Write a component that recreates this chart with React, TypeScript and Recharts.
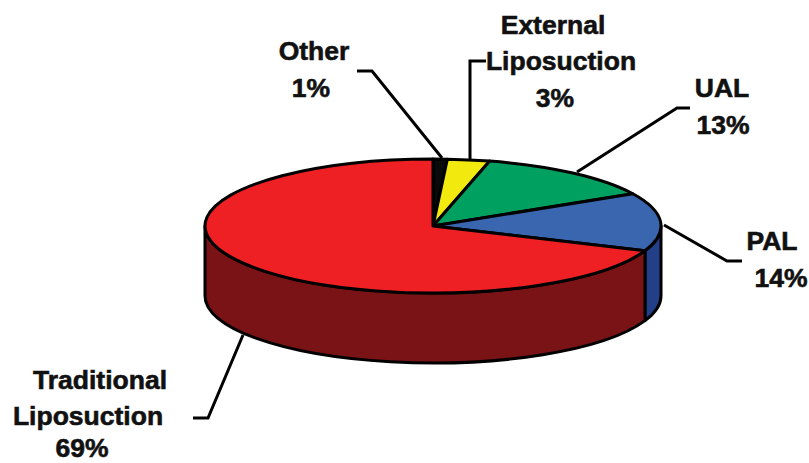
import { Pie, PieChart } from "recharts";

const categories = ["Other", "External Liposuction", "UAL", "PAL", "Traditional Liposuction"];
const shares = [1, 3, 13, 14, 69];

const topColors = ["#0a0a0a", "#f2e90f", "#00a160", "#3a66b0", "#ee2024"];
const wallColors = ["#0a0a0a", "#b5ad0b", "#00693f", "#233f88", "#7a1315"];

// where each label sits: one [centre x, baseline y] per text line, then its leader line
const labelLayout = [
  { lines: [[314, 60], [311, 97]], leader: "357,71 372,71 442,158" },
  { lines: [[553, 34], [561, 70], [555, 107]], leader: "486,61 470,61 470,160" },
  { lines: [[722, 97], [723, 134]], leader: "690,108 677,108 577,172" },
  { lines: [[772, 250], [781, 287]], leader: "664,225 727,261 742,261" },
  { lines: [[100, 389], [88, 425], [82, 457]], leader: "243,335 208,418 193,418" },
];

const data = categories.map((name, i) => ({ name, value: shares[i] }));

const WIDTH = 809;
const HEIGHT = 463;
const CX = 433;
const CY = 226;
const RADIUS = 228;
const TILT = 67 / 228;
const DEPTH = 70;
const LINE = 3;

const RAD = Math.PI / 180;

const Slice = ({ cx, cy, outerRadius, startAngle, endAngle, index }: any) => {
  const ry = outerRadius * TILT;
  const px = (a: number) => cx + outerRadius * Math.cos(a * RAD);
  const py = (a: number) => cy - ry * Math.sin(a * RAD);
  const large = Math.abs(startAngle - endAngle) > 180 ? 1 : 0;
  const top = `M${cx},${cy} L${px(startAngle)},${py(startAngle)} A${outerRadius},${ry} 0 ${large} 1 ${px(endAngle)},${py(endAngle)} Z`;

  // only the front half of the rim has a visible wall
  const from = Math.min(startAngle, 0);
  const to = Math.max(endAngle, -180);
  const wall =
    from > to
      ? `M${px(from)},${py(from)} A${outerRadius},${ry} 0 0 1 ${px(to)},${py(to)} L${px(to)},${py(to) + DEPTH} A${outerRadius},${ry} 0 0 0 ${px(from)},${py(from) + DEPTH} Z`
      : null;

  return (
    <g>
      {wall && <path d={wall} fill={wallColors[index]} stroke="#000" strokeWidth={LINE} strokeLinejoin="round" />}
      <path d={top} fill={topColors[index]} stroke="#000" strokeWidth={LINE} strokeLinejoin="round" />
    </g>
  );
};

const SliceLabel = ({ index }: any) => {
  const words = [...categories[index].split(" "), `${shares[index]}%`];
  const { lines, leader } = labelLayout[index];
  return (
    <g>
      <polyline points={leader} fill="none" stroke="#000" strokeWidth={LINE} />
      {words.map((word, i) => (
        <text
          key={word}
          x={lines[i][0]}
          y={lines[i][1]}
          textAnchor="middle"
          fontFamily="Liberation Sans"
          fontWeight="bold"
          fontSize={26.5}
          fill="#111"
          stroke="#111"
          strokeWidth={0.6}
        >
          {word}
        </text>
      ))}
    </g>
  );
};

const App = () => {
  return (
    <div style={{ position: "absolute", left: 0, top: 0, width: WIDTH, height: HEIGHT }}>
      <PieChart width={WIDTH} height={HEIGHT} margin={{ top: 0, right: 0, bottom: 0, left: 0 }}>
        <Pie
          data={data}
          dataKey="value"
          nameKey="name"
          cx={CX}
          cy={CY}
          outerRadius={RADIUS}
          startAngle={90}
          endAngle={-270}
          isAnimationActive={false}
          shape={Slice}
          label={SliceLabel}
          labelLine={false}
        />
      </PieChart>
    </div>
  );
};
export default App;
